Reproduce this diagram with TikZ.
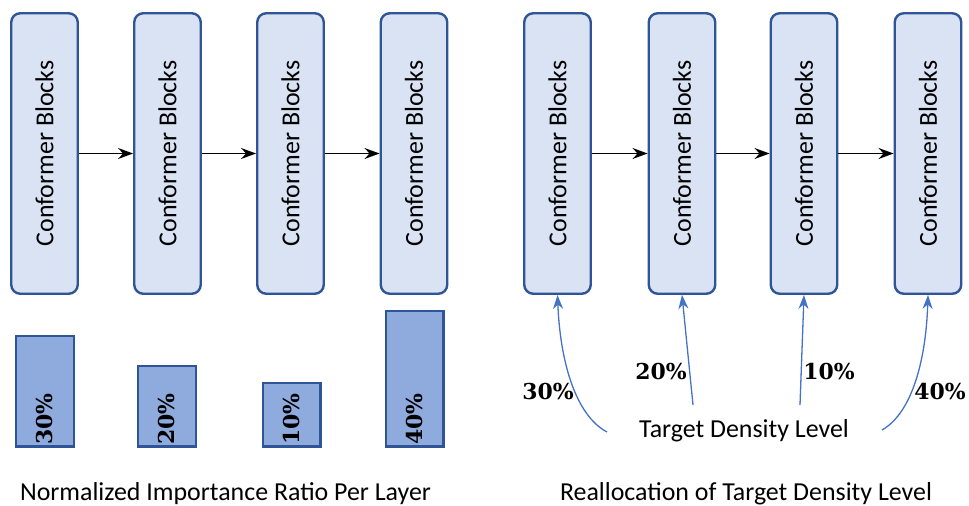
\documentclass[tikz,border=0pt]{standalone}
\usepackage{fontspec}
\newfontfamily\calibri{Carlito}
\newfontfamily\numfont{DejaVu Serif}
\usetikzlibrary{arrows.meta}

\definecolor{blockfill}{HTML}{DAE3F3}
\definecolor{edgeblue}{HTML}{2F5597}
\definecolor{barfill}{HTML}{8FAADC}
\definecolor{linkblue}{HTML}{4472C4}

\tikzset{
  blockbox/.style={draw=edgeblue, fill=blockfill, line width=2.4bp,
    rounded corners=9bp, rotate=90, minimum width=280.5bp,
    minimum height=66.5bp, inner sep=0pt,
    font=\calibri\fontsize{26}{30}\selectfont},
  barbox/.style={draw=edgeblue, fill=barfill, line width=2.4bp,
    minimum width=57.6bp, inner sep=0pt, anchor=south},
  pct/.style={font=\numfont\bfseries\fontsize{22}{26}\selectfont, inner sep=0pt},
  pctbar/.style={pct, rotate=90, anchor=west},
  caption/.style={font=\calibri\fontsize{26}{30}\selectfont, inner sep=0pt,
    anchor=base},
  flow/.style={line width=1.5bp, -{Stealth[length=15bp, width=11bp, inset=5bp]}},
  assign/.style={draw=linkblue, line width=1.3bp,
    -{Stealth[length=14bp, width=10bp, inset=4.5bp]}}
}

\begin{document}
\begin{tikzpicture}[x=1bp, y=-1bp]
  \useasboundingbox (0,0) rectangle (969,506);

  % ---- left half: importance ratio per layer ----
  \node[blockbox] (b1) at (44.5,153.5) {Conformer Blocks};
  \node[blockbox] (b2) at (167.5,153.5) {Conformer Blocks};
  \node[blockbox] (b3) at (290.5,153.5) {Conformer Blocks};
  \node[blockbox] (b4) at (414,153.5) {Conformer Blocks};
  \draw[flow] (b1) -- (b2);
  \draw[flow] (b2) -- (b3);
  \draw[flow] (b3) -- (b4);

  \node[barbox, minimum height=110.6bp] (r1) at (45,447.8) {};
  \node[barbox, minimum height=80.6bp]  (r2) at (167,447.8) {};
  \node[barbox, minimum height=63.6bp]  (r3) at (291.5,447.8) {};
  \node[barbox, minimum height=135.6bp] (r4) at (414.5,447.8) {};
  \node[pctbar] (p1) at (45,445) {30\%};
  \node[pctbar] (p2) at (167,445) {20\%};
  \node[pctbar] (p3) at (291.5,445) {10\%};
  \node[pctbar] (p4) at (414.5,445) {40\%};

  \node[caption] (cap1) at (225.5,500) {Normalized Importance Ratio Per Layer};

  % ---- right half: reallocated target density ----
  \node[blockbox] (b5) at (557.5,153.5) {Conformer Blocks};
  \node[blockbox] (b6) at (682,153.5) {Conformer Blocks};
  \node[blockbox] (b7) at (804,153.5) {Conformer Blocks};
  \node[blockbox] (b8) at (928,153.5) {Conformer Blocks};
  \draw[flow] (b5) -- (b6);
  \draw[flow] (b6) -- (b7);
  \draw[flow] (b7) -- (b8);

  \node[caption] (tdl) at (744,437) {Target Density Level};
  \coordinate (s1) at (607,432);
  \coordinate (s2) at (693,405);
  \coordinate (s3) at (800,405);
  \coordinate (s4) at (882,430);
  \draw[assign] (s1) .. controls (575,415) and (560,360) .. (b5.west);
  \draw[assign] (s2) -- (b6.west);
  \draw[assign] (s3) -- (b7.west);
  \draw[assign] (s4) .. controls (912,413) and (926,360) .. (b8.west);

  \node[pct] (q1) at (548,392) {30\%};
  \node[pct] (q2) at (661,372) {20\%};
  \node[pct] (q3) at (829,372) {10\%};
  \node[pct] (q4) at (940,392) {40\%};

  \node[caption] (cap2) at (746,500) {Reallocation of Target Density Level};
\end{tikzpicture}
\end{document}
